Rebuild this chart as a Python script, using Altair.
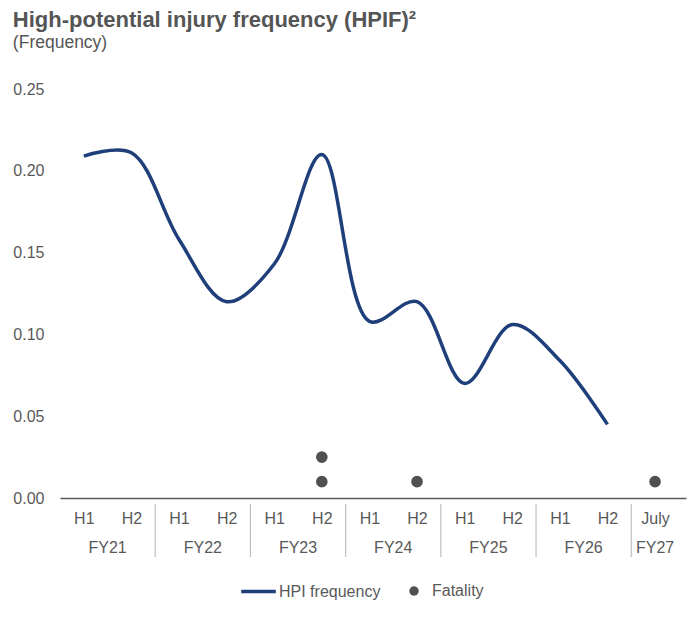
import altair as alt
import pandas as pd

# ---- data ----
period_idx = list(range(12))
hpif_values = [0.209, 0.211, 0.158, 0.120, 0.143, 0.210, 0.108, 0.120, 0.070, 0.106, 0.084, 0.045]

tick_labels = ["H1", "H2", "H1", "H2", "H1", "H2", "H1", "H2", "H1", "H2", "H1", "H2", "July"]

fy_labels = ["FY21", "FY22", "FY23", "FY24", "FY25", "FY26", "FY27"]
fy_centers = [0.5, 2.5, 4.5, 6.5, 8.5, 10.5, 12]
divider_pos = [1.5, 3.5, 5.5, 7.5, 9.5, 11.5]

fatality_idx = [5, 5, 7, 12]
fatality_values = [0.025, 0.01, 0.01, 0.01]

NAVY = "#1F3F7A"
GREY = "#505050"
TXT = "#595959"
FONT = "Liberation Sans"

W, H = 626, 409

line_df = pd.DataFrame({"idx": period_idx, "v": hpif_values, "s": "HPI frequency"})
fat_df = pd.DataFrame({"idx": fatality_idx, "v": fatality_values, "s": "Fatality"})
fy_df = pd.DataFrame({"x": fy_centers, "label": fy_labels})
div_df = pd.DataFrame({"x": divider_pos})

label_expr = "[" + ",".join('"%s"' % t for t in tick_labels) + "][datum.value]"

xscale = alt.Scale(domain=[-0.5, 12.65], nice=False, zero=False)
yscale = alt.Scale(domain=[0, 0.25], nice=False)

xaxis = alt.Axis(
    values=list(range(13)), labelExpr=label_expr, title=None, grid=False, ticks=False,
    domainColor=TXT, domainWidth=1.6, labelColor=TXT, labelFontSize=16,
    labelPadding=12, labelFont=FONT, labelBaseline="top",
)
yaxis = alt.Axis(
    values=[0, 0.05, 0.10, 0.15, 0.20, 0.25], format=".2f", title=None, grid=False,
    ticks=False, domain=False, labelColor=TXT, labelFontSize=16, labelPadding=16,
    labelFont=FONT,
)

line = alt.Chart(line_df).mark_line(interpolate="catmull-rom", strokeWidth=3.5).encode(
    x=alt.X("idx:Q", scale=xscale, axis=xaxis),
    y=alt.Y("v:Q", scale=yscale, axis=yaxis),
    color=alt.Color("s:N", scale=alt.Scale(domain=["HPI frequency"], range=[NAVY]),
                    legend=alt.Legend(title=None, orient="none", legendX=179, legendY=483,
                                      symbolType="stroke", symbolSize=1200, symbolStrokeWidth=3.5,
                                      labelFontSize=16, labelColor=TXT, labelOffset=1,
                                      labelFont=FONT)),
)

points = alt.Chart(fat_df).mark_point(filled=True, size=135, color=GREY, opacity=1).encode(
    x=alt.X("idx:Q", scale=xscale),
    y=alt.Y("v:Q", scale=yscale),
    shape=alt.Shape("s:N", scale=alt.Scale(domain=["Fatality"], range=["circle"]),
                    legend=alt.Legend(title=None, orient="none", legendX=346, legendY=494,
                                      symbolFillColor=GREY, symbolStrokeColor=GREY, symbolSize=90,
                                      symbolOpacity=1,
                                      labelFontSize=16, labelColor=TXT, labelOffset=10,
                                      labelFont=FONT)),
)

dividers = alt.Chart(div_df).mark_rule(color="#BFBFBF", strokeWidth=1.2).encode(
    x=alt.X("x:Q", scale=xscale),
    y=alt.value(H + 6),
    y2=alt.value(H + 59),
)

fy_text = alt.Chart(fy_df).mark_text(fontSize=16, color=TXT, baseline="middle",
                                     font=FONT).encode(
    x=alt.X("x:Q", scale=xscale),
    y=alt.value(H + 50),
    text="label:N",
)

chart = alt.layer(line, points, dividers, fy_text).properties(
    width=W, height=H,
    padding={"left": 4, "top": 0, "right": 2, "bottom": 5},
    title=alt.TitleParams(
        text="High-potential injury frequency (HPIF)²",
        subtitle="(Frequency)",
        anchor="start", frame="bounds", font=FONT, fontSize=22,
        fontWeight="bold", color="#555555", subtitleFont=FONT,
        subtitleFontSize=17.5, subtitleColor="#555555", subtitlePadding=2, offset=29,
    ),
).configure_view(stroke=None).resolve_scale(color="independent", shape="independent")

chart.save("out.html", embed_options={"renderer": "svg", "actions": False})
